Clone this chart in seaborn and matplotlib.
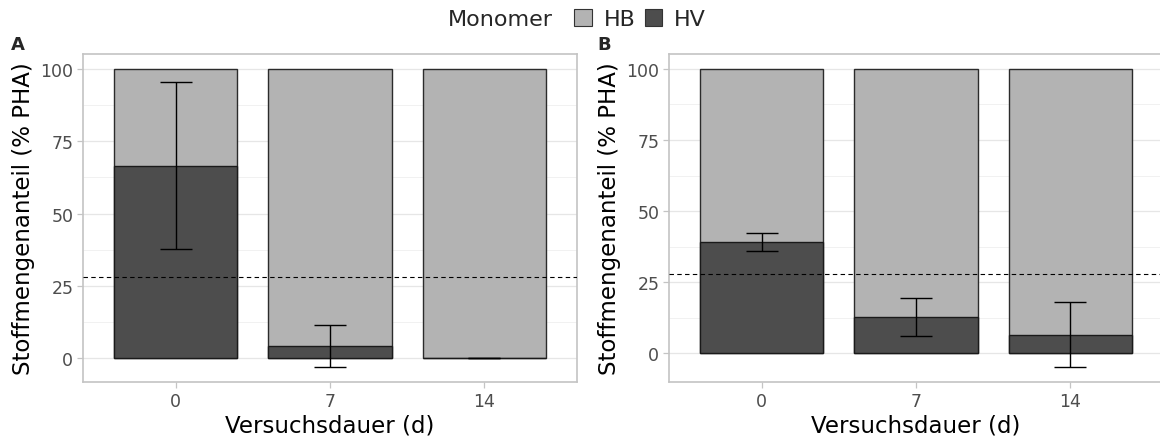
import numpy as np
import pandas as pd
import matplotlib
matplotlib.use("Agg")
import matplotlib.pyplot as plt
from matplotlib.patches import Patch
from matplotlib.ticker import MultipleLocator
import seaborn as sns

# Versuchsdauer (Tage) und HV-Anteil am PHA (Mittelwert, Standardabweichung)
days = ["0", "7", "14"]
hv_a = [66.6, 4.2, 0.0]
hv_a_sd = [28.8, 7.2, 0.0]
hv_b = [39.0, 12.8, 6.5]
hv_b_sd = [3.1, 6.65, 11.4]
reference_hv = 28.0
panel_labels = ["A", "B"]

sns.set_theme(style="white")
plt.rcParams["font.family"] = ["DejaVu Sans"]

C_HB = "#B3B3B3"
C_HV = "#4D4D4D"
C_GRID = "#E6E6E6"
C_FRAME = "#C4C4C4"
C_TEXT = "#4D4D4D"

W, H = 1160, 439
fig = plt.figure(figsize=(W / 100, H / 100), dpi=100)


def frac(x0, x1, y0, y1):
    return [x0 / W, 1 - y1 / H, (x1 - x0) / W, (y1 - y0) / H]


axes = [fig.add_axes(frac(83, 577, 55, 383)),
        fig.add_axes(frac(669, 1163, 55, 383))]
label_x = [11, 597]

for ax, hv, sd, lab, lx in zip(axes, [hv_a, hv_b], [hv_a_sd, hv_b_sd],
                               panel_labels, label_x):
    hv = np.asarray(hv)
    sd = np.asarray(sd)
    df = pd.DataFrame({"Tag": days, "HV": hv, "HB": 100 - hv})
    df["Gesamt"] = df["HV"] + df["HB"]

    # stacked bars: total (HB on top) then HV from zero
    sns.barplot(data=df, x="Tag", y="Gesamt", order=days, color=C_HB,
                width=0.8, edgecolor="#2b2b2b", linewidth=1.0,
                saturation=1, errorbar=None, ax=ax, zorder=2)
    sns.barplot(data=df, x="Tag", y="HV", order=days, color=C_HV,
                width=0.8, edgecolor="#1a1a1a", linewidth=1.0,
                saturation=1, errorbar=None, ax=ax, zorder=3)

    xpos = np.arange(len(days))
    ax.errorbar(xpos, hv, yerr=sd, fmt="none", ecolor="black",
                elinewidth=1.0, capsize=11.2, capthick=1.0, zorder=4)

    ax.axhline(reference_hv, color="black", linestyle=(0, (4, 3)),
               linewidth=0.8, zorder=5)

    lo = min(0.0, float(np.min(hv - sd)))
    hi = 100.0
    pad = 0.05 * (hi - lo)
    ax.set_ylim(lo - pad, hi + pad)
    ax.set_xlim(-0.6, len(days) - 0.4)

    ax.yaxis.set_major_locator(MultipleLocator(25))
    ax.yaxis.set_minor_locator(MultipleLocator(12.5))
    ax.grid(which="major", axis="y", color=C_GRID, linewidth=0.9, zorder=0)
    ax.grid(which="minor", axis="y", color="#EFEFEF", linewidth=0.6, zorder=0)
    ax.set_axisbelow(True)

    for s in ax.spines.values():
        s.set_visible(True)
        s.set_color(C_FRAME)
        s.set_linewidth(1.2)

    ax.tick_params(axis="both", which="major", direction="out", length=4,
                   width=0.9, color=C_FRAME, labelsize=12.5, labelcolor=C_TEXT,
                   pad=3, left=True, bottom=True)
    ax.tick_params(axis="both", which="minor", length=0)

    ax.set_xlabel("Versuchsdauer (d)", fontsize=16.5, color="black",
                  labelpad=3)
    ax.set_ylabel("Stoffmengenanteil (% PHA)", fontsize=16.5, color="black",
                  labelpad=4)

    fig.text(lx / W, 1 - 36 / H, lab, fontsize=13, fontweight="bold",
             ha="left", va="top")

# legend on top
fig.text(553 / W, 1 - 20 / H, "Monomer", fontsize=16, ha="right",
         va="center")
handles = [Patch(facecolor=C_HB, edgecolor="#333333", linewidth=0.8, label="HB"),
           Patch(facecolor=C_HV, edgecolor="#333333", linewidth=0.8, label="HV")]
fig.legend(handles=handles, loc="center left",
           bbox_to_anchor=(571 / W, 1 - 20 / H), ncol=2, frameon=False,
           fontsize=16, handlelength=0.78, handleheight=0.78,
           handletextpad=0.55, columnspacing=0.4, borderpad=0.15,
           borderaxespad=0)

fig.savefig("out.png", dpi=100)
